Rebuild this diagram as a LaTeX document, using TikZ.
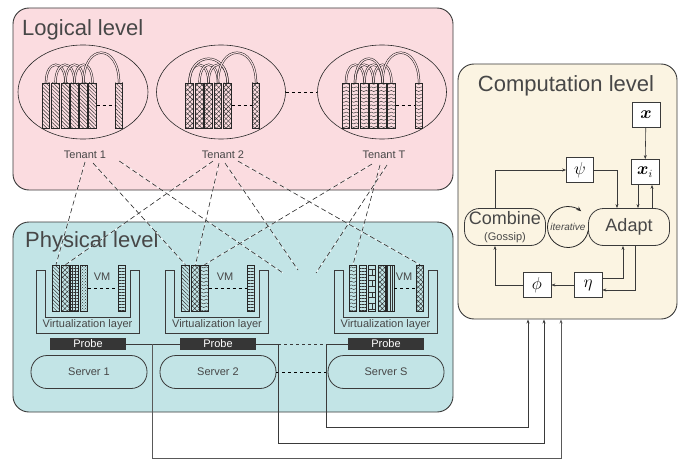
\documentclass[tikz,border=0pt]{standalone}
\usepackage{fontspec}
\setmainfont{Liberation Sans}
\usepackage{amsmath}
\usepackage{bm}
\usetikzlibrary{patterns,patterns.meta,arrows.meta,shapes.geometric}

\definecolor{logicfill}{HTML}{FBDCE0}
\definecolor{physfill}{HTML}{C2E4E6}
\definecolor{compfill}{HTML}{FBF4E2}
\definecolor{edgegray}{HTML}{3A3A3A}
\definecolor{textgray}{HTML}{474747}
\definecolor{probefill}{HTML}{363636}

\newcommand{\titlesize}{\fontsize{22}{24}\selectfont}
\newcommand{\labelsize}{\fontsize{11}{12}\selectfont}
\newcommand{\blocksize}{\fontsize{18}{19}\selectfont}

% wavy stripes for the third tenant
\pgfdeclarepatternformonly{waves}{\pgfqpoint{-1pt}{-1pt}}{\pgfqpoint{6pt}{5pt}}{\pgfqpoint{5pt}{3.6pt}}{
  \pgfsetlinewidth{0.45pt}
  \pgfpathmoveto{\pgfqpoint{0pt}{1.8pt}}
  \pgfpathcurveto{\pgfqpoint{1.6pt}{3.8pt}}{\pgfqpoint{3.4pt}{-0.2pt}}{\pgfqpoint{5pt}{1.8pt}}
  \pgfusepath{stroke}
}

\tikzset{
  levelbox/.style={draw=edgegray, line width=0.9pt, rounded corners=16pt, inner sep=0pt},
  leveltitle/.style={text=textgray, font=\titlesize, inner sep=0pt},
  lbl/.style={text=textgray, font=\labelsize, inner sep=1pt},
  tbar/.style={draw=black!85, fill=white, line width=0.6pt, minimum width=7.5pt, minimum height=45pt, inner sep=0pt, pattern color=black!80},
  hatchbar/.style={pattern={Lines[angle=-45,distance=2.6pt,line width=0.45pt]}},
  crossbar/.style={pattern={Hatch[angle=45,distance=3.4pt,line width=0.45pt]}},
  gridbar/.style={pattern={Hatch[angle=0,distance=3pt,line width=0.45pt]}},
  rowbar/.style={pattern={Lines[angle=0,distance=3pt,line width=0.45pt]}},
  colbar/.style={pattern={Lines[angle=90,distance=2.5pt,line width=0.45pt]}},
  arch/.style={draw=black!90, line width=0.5pt, double=logicfill, double distance=1.2pt},
  vlayer/.style={draw=edgegray, line width=0.8pt},
  probe/.style={fill=probefill, text=white, font=\labelsize, minimum width=76pt, minimum height=12pt, inner sep=0pt},
  server/.style={draw=edgegray, line width=0.8pt, rounded corners=16pt, minimum width=116pt, minimum height=33pt, text=textgray, font=\labelsize},
  mapline/.style={draw=black!85, line width=0.6pt, dash pattern=on 5pt off 3pt, preaction={draw=white, solid, line width=0.6pt}},
  wire/.style={draw=edgegray, line width=0.7pt},
  mathbox/.style={draw=edgegray, line width=0.7pt, fill=white, minimum width=28pt, minimum height=25pt, inner sep=0pt, font=\fontsize{16}{16}\selectfont},
  block/.style={draw=edgegray, line width=0.8pt, rounded corners=15pt, minimum width=81pt, minimum height=37pt, inner sep=0pt, text=textgray, font=\blocksize, align=center},
  arr/.style={draw=edgegray, line width=0.6pt, -{Stealth[length=4pt,width=3pt]}}
}

\begin{document}
\begin{tikzpicture}[x=1pt, y=-1pt]
  \useasboundingbox (0,0) rectangle (683,460);

  % the three levels
  \node[levelbox, fill=logicfill, minimum width=440pt, minimum height=182pt] (logic) at (233,99) {};
  \node[levelbox, fill=physfill, minimum width=440pt, minimum height=190pt] (phys) at (233,317) {};
  \node[levelbox, fill=compfill, minimum width=219pt, minimum height=255pt] (comp) at (567.5,191.5) {};

  \node[leveltitle, anchor=west] (logictitle) at (22,30) {Logical level};
  \node[leveltitle, anchor=west] (phystitle) at (25,242) {Physical level};
  \node[leveltitle] (comptitle) at (566,86) {Computation level};

  % tenants
  \node[draw=black!85, line width=0.6pt, ellipse, minimum width=130pt, minimum height=94pt] (e1) at (83,92) {};
  \node[draw=black!85, line width=0.6pt, ellipse, minimum width=129pt, minimum height=94pt] (e2) at (221,92) {};
  \node[draw=black!85, line width=0.6pt, ellipse, minimum width=129pt, minimum height=94pt] (eT) at (382,92) {};
  \draw[dashed, line width=0.6pt] (e2.east) -- (eT.west);

  \node[lbl] (t1) at (85,155) {Tenant 1};
  \node[lbl] (t2) at (223,155) {Tenant 2};
  \node[lbl] (tT) at (384,155) {Tenant T};

  \foreach \i/\bx in {1/46,2/55.5,3/65.5,4/74.5,5/83.5,6/92.5,7/119}
    \node[tbar, hatchbar] (t1b\i) at (\bx,105.5) {};
  \foreach \a/\b/\h in {1/3/24,2/4/24,3/5/24,4/6/24,5/7/40}
    \draw[arch] (t1b\a.north) .. controls +(0,-\h) and +(0,-\h) .. (t1b\b.north);
  \draw[dashed, line width=0.6pt] (t1b6.east) -- (t1b7.west);

  \foreach \i/\bx in {1/189.5,2/199.5,3/208.5,4/218,5/227.5,6/256}
    \node[tbar, crossbar] (t2b\i) at (\bx,105.5) {};
  \foreach \a/\b/\h in {1/3/24,2/4/24,3/5/24,1/5/32,4/6/40}
    \draw[arch] (t2b\a.north) .. controls +(0,-\h) and +(0,-\h) .. (t2b\b.north);
  \draw[dashed, line width=0.6pt] (t2b5.east) -- (t2b6.west);

  \foreach \i/\bx in {1/346,2/355,3/364.5,4/373.5,5/382.5,6/391.5,7/419}
    \node[tbar, pattern=waves] (tTb\i) at (\bx,105.5) {};
  \foreach \a/\b/\h in {1/3/24,2/4/24,3/5/24,4/6/24,2/5/32,5/7/40}
    \draw[arch] (tTb\a.north) .. controls +(0,-\h) and +(0,-\h) .. (tTb\b.north);
  \draw[dashed, line width=0.6pt] (tTb6.east) -- (tTb7.west);

  % virtualization layers and VMs
  \foreach \name/\cx in {c1/87.5,c2/217,cS/385.5} {
    \draw[vlayer] (\cx-51.5,270) -- (\cx-51.5,333) -- (\cx+51.5,333) -- (\cx+51.5,270)
      -- (\cx+42.5,270) -- (\cx+42.5,317) -- (\cx-42.5,317) -- (\cx-42.5,270) -- cycle;
    \node[lbl] (\name layer) at (\cx,325) {Virtualization layer};
  }

  \node[tbar, minimum height=46pt, hatchbar] (c1b1) at (56,288) {};
  \node[tbar, minimum height=46pt, crossbar] (c1b2) at (65.5,288) {};
  \node[tbar, minimum height=46pt, gridbar] (c1b3) at (74.5,288) {};
  \node[tbar, minimum height=46pt, pattern=crosshatch dots] (c1b4) at (84,288) {};
  \node[tbar, minimum height=46pt, rowbar] (c1b5) at (122,288) {};
  \node[lbl] (vm1) at (102,277) {VM};
  \draw[dashed, line width=0.6pt] (c1b4.east) -- (c1b5.west);

  \node[tbar, minimum height=46pt, hatchbar] (c2b1) at (185.5,288) {};
  \node[tbar, minimum height=46pt, crossbar] (c2b2) at (195.5,288) {};
  \node[tbar, minimum height=46pt, pattern=waves] (c2b3) at (204.5,288) {};
  \node[tbar, minimum height=46pt, rowbar] (c2b4) at (251,288) {};
  \node[lbl] (vm2) at (225,277) {VM};
  \draw[dashed, line width=0.6pt] (c2b3.east) -- (c2b4.west);

  \node[tbar, minimum height=46pt, pattern=waves] (cSb1) at (353,288) {};
  \node[tbar, minimum height=46pt, rowbar] (cSb2) at (363,288) {};
  \node[tbar, minimum height=46pt, pattern=bricks] (cSb3) at (372,288) {};
  \node[tbar, minimum height=46pt, crossbar] (cSb4) at (382,288) {};
  \node[tbar, minimum height=46pt, colbar] (cSb5) at (390.5,288) {};
  \node[tbar, minimum height=46pt, crossbar] (cSb6) at (420,288) {};
  \node[lbl] (vmS) at (404,277) {VM};
  \draw[dashed, line width=0.6pt] (cSb5.east) -- (cSb6.west);

  % probes and servers
  \node[probe] (probe1) at (88,344) {Probe};
  \node[probe] (probe2) at (218,344) {Probe};
  \node[probe] (probeS) at (386,344) {Probe};

  \node[server] (srv1) at (89,372) {Server 1};
  \node[server] (srv2) at (218,372) {Server 2};
  \node[server] (srvS) at (386,372) {Server S};
  \draw[dashed, line width=0.6pt] (srv2.east) -- (srvS.west);

  % tenant to VM placement
  \coordinate (open1) at (283,273);
  \coordinate (open2) at (298,270);
  \coordinate (open3) at (316,273);
  \draw[mapline] ([yshift=-2pt]t1.south) -- (c1b1.north);
  \draw[mapline] ([xshift=8pt,yshift=-3pt]t1.south) -- (c2b1.north);
  \draw[mapline] ([xshift=12pt,yshift=-1pt]t1.south east) -- (open1);
  \draw[mapline] ([xshift=-10pt,yshift=-1pt]t2.south) -- (c1b2.north);
  \draw[mapline] ([xshift=-4pt,yshift=-3pt]t2.south) -- (c2b2.north);
  \draw[mapline] ([xshift=2pt,yshift=-3pt]t2.south) -- (open2);
  \draw[mapline] ([xshift=15pt,yshift=-1pt]t2.south) -- (cSb6.north);
  \draw[mapline] ([xshift=-12pt,yshift=-4pt]tT.south) -- (c2b3.north);
  \draw[mapline] ([xshift=-4pt,yshift=-5pt]tT.south) -- (cSb1.north);
  \draw[mapline] ([xshift=3pt,yshift=-5pt]tT.south) -- (open3);

  % monitoring wires to the computation level
  \coordinate (tap1) at (152,344);
  \coordinate (tap2) at (278,344);
  \coordinate (tapS) at (326,344);
  \coordinate (bend1) at (561,458);
  \coordinate (bend2) at (544,443);
  \coordinate (bendS) at (528,427);
  \draw[wire] (probe1.east) -- (probe2.west);
  \draw[wire] (probe2.east) -- (tap2);
  \draw[wire, dashed] (tap2) -- (tapS);
  \draw[wire] (tapS) -- (probeS.west);
  \draw[arr, draw=black!65, line width=0.7pt] (tap1) |- (bend1) -- (bend1 |- comp.south);
  \draw[arr, line width=0.7pt] (tap2) |- (bend2) -- (bend2 |- comp.south);
  \draw[arr, line width=0.7pt] (tapS) |- (bendS) -- (bendS |- comp.south);

  % computation level
  \node[mathbox] (xv) at (646,115) {$\bm{x}$};
  \node[mathbox] (xi) at (645,172) {$\bm{x}_i$};
  \node[mathbox, minimum width=27pt] (psi) at (580,170) {$\psi$};
  \node[block] (comb) at (505,227) {\raisebox{2pt}{Combine}\\[-5pt]{\fontsize{11}{11}\selectfont (Gossip)}};
  \node[block] (adapt) at (629,227) {Adapt};
  \node[text=textgray, font=\fontsize{10}{10}\selectfont\itshape, inner sep=0pt] (iter) at (568,227) {iterative};
  \draw[draw=black!85, line width=0.8pt, -{Stealth[length=5pt,width=4pt]}]
    ([shift={(10:20.5)}]iter.center) arc[start angle=10, end angle=310, radius=20.5];
  \node[mathbox] (phi) at (537,285) {$\phi$};
  \node[mathbox] (eta) at (588,285) {$\eta$};

  \draw[arr] (xv) -- (xi);
  \draw[arr] ([xshift=-10pt]comb.north) |- (psi.west);
  \draw[arr] (psi.east) -| ([xshift=-12pt]adapt.north);
  \draw[arr] ([xshift=-7pt]xi.south) -- ([xshift=-7pt]xi.south |- adapt.north);
  \draw[arr] ([xshift=7pt]xi.south |- adapt.north) -- ([xshift=7pt]xi.south);
  \draw[arr] ([yshift=7pt]eta.east) -| ([xshift=-6pt]adapt.south);
  \draw[arr] ([xshift=6pt]adapt.south) |- ([yshift=-5pt]eta.east);
  \draw[arr] (eta) -- (phi);
  \draw[arr] (phi.west) -| ([xshift=-10pt]comb.south);
\end{tikzpicture}
\end{document}
